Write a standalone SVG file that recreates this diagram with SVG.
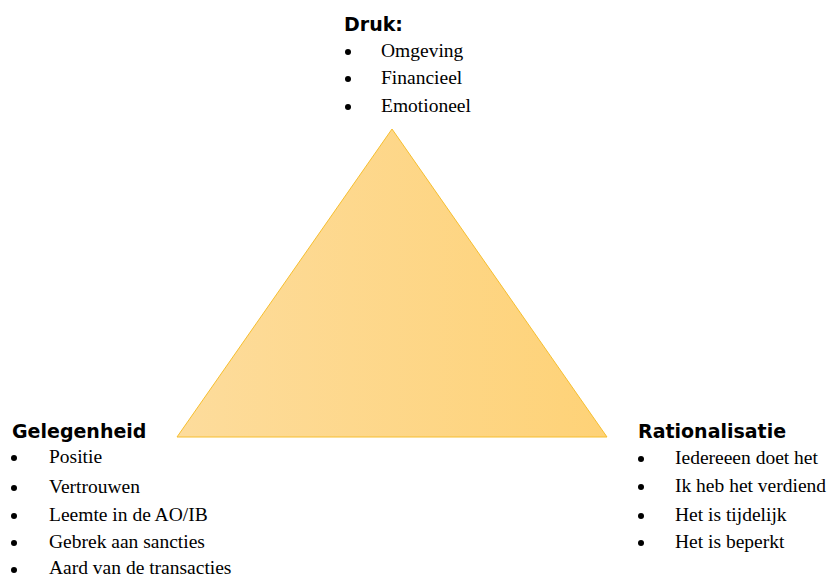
<svg xmlns="http://www.w3.org/2000/svg" width="828" height="578" viewBox="0 0 828 578">
<style>
.h{font-family:"DejaVu Sans","Verdana",sans-serif;font-weight:bold;font-size:19px;fill:#000}
.t{font-family:"Liberation Serif","Times New Roman",serif;font-size:19.5px;fill:#000}
.b{fill:#000}
</style>
<defs>
<linearGradient id="g" x1="0" y1="0" x2="1" y2="0">
<stop offset="0" stop-color="#FDDC9C"/>
<stop offset="1" stop-color="#FED277"/>
</linearGradient>
</defs>
<rect width="828" height="578" fill="#fff"/>
<g id="triangle">
<polygon points="392,129 607,437 177,437" fill="url(#g)" stroke="#F6BE2E" stroke-width="1"/>
</g>
<g id="druk">
<text class="h" x="344" y="31">Druk:</text>
<circle class="b" cx="348" cy="52" r="3"/><text class="t" x="381" y="57">Omgeving</text>
<circle class="b" cx="348" cy="79" r="3"/><text class="t" x="381" y="84">Financieel</text>
<circle class="b" cx="348" cy="107" r="3"/><text class="t" x="381" y="112">Emotioneel</text>
</g>
<g id="gelegenheid">
<text class="h" x="12" y="438">Gelegenheid</text>
<circle class="b" cx="14" cy="458" r="3"/><text class="t" x="49" y="463">Positie</text>
<circle class="b" cx="14" cy="488" r="3"/><text class="t" x="49" y="493">Vertrouwen</text>
<circle class="b" cx="14" cy="516" r="3"/><text class="t" x="49" y="521">Leemte in de AO/IB</text>
<circle class="b" cx="14" cy="543" r="3"/><text class="t" x="49" y="548">Gebrek aan sancties</text>
<circle class="b" cx="14" cy="570" r="3"/><text class="t" x="49" y="574">Aard van de transacties</text>
</g>
<g id="rationalisatie">
<text class="h" x="638" y="438">Rationalisatie</text>
<circle class="b" cx="641" cy="459" r="3"/><text class="t" x="675" y="464">Iedereeen doet het</text>
<circle class="b" cx="641" cy="487" r="3"/><text class="t" x="675" y="492">Ik heb het verdiend</text>
<circle class="b" cx="641" cy="516" r="3"/><text class="t" x="675" y="521">Het is tijdelijk</text>
<circle class="b" cx="641" cy="543" r="3"/><text class="t" x="675" y="548">Het is beperkt</text>
</g>
<g id="connectors"></g>
</svg>
